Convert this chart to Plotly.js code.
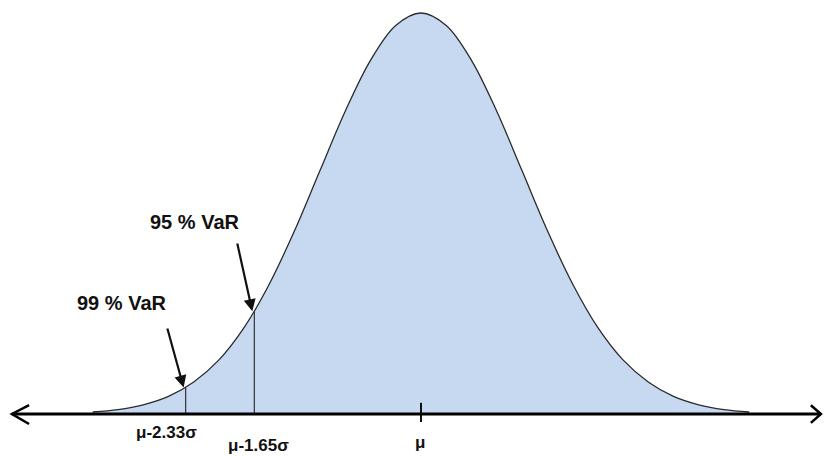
<!DOCTYPE html>
<html>
<head>
<meta charset="utf-8">
<script src="https://cdn.plot.ly/plotly-3.0.1.min.js"></script>
<style>html,body{margin:0;padding:0;background:#fff;}#chart{width:825px;height:457px;}</style>
</head>
<body>
<div id="chart"></div>
<script>
// x in units of sigma from the mean (mu = 0); density relative to the peak
const sigmaX = [-3.25,-3,-2.75,-2.5,-2.25,-2,-1.75,-1.5,-1.25,-1,-0.75,-0.5,-0.25,0,0.25,0.5,0.75,1,1.25,1.5,1.75,2,2.25,2.5,2.75,3,3.25];
const density = [0.005,0.011,0.023,0.044,0.080,0.135,0.216,0.325,0.458,0.607,0.755,0.882,0.969,1.0,0.969,0.882,0.755,0.607,0.458,0.325,0.216,0.135,0.080,0.044,0.023,0.011,0.005];

// VaR cut-offs
const varLevels = ["99 % VaR", "95 % VaR"];
const varX = [-2.33, -1.65];
const varY = [0.066, 0.256];
const varTickLabels = ["μ-2.33σ", "μ-1.65σ"];
const meanLabel = "μ";

const traces = [
  {x: sigmaX, y: density, type: 'scatter', mode: 'lines', line: {color: '#2b2b2b', width: 1.3, shape: 'spline', smoothing: 1}, fill: 'tozeroy', fillcolor: '#c6d9f1', hoverinfo: 'skip'}
];
varX.forEach((vx, i) => {
  traces.push({x: [vx, vx], y: [0, varY[i]], type: 'scatter', mode: 'lines', line: {color: '#333', width: 1.2}, hoverinfo: 'skip'});
});
traces.push({x: [0, 0], y: [-0.02, 0.028], type: 'scatter', mode: 'lines', line: {color: '#111', width: 2}, hoverinfo: 'skip'});

const annotations = [];
// arrows (head at curve, tail above-left)
const arrowTail = [[-2.515, 0.217], [-1.822, 0.429]];
varX.forEach((vx, i) => {
  annotations.push({x: vx - 0.02, y: varY[i], ax: arrowTail[i][0], ay: arrowTail[i][1], xref: 'x', yref: 'y', axref: 'x', ayref: 'y', text: '', showarrow: true, arrowhead: 2, arrowsize: 1.1, arrowwidth: 2.2, arrowcolor: '#111'});
});
const labelPos = [[-2.96, 0.277], [-2.238, 0.479]];
varLevels.forEach((t, i) => {
  annotations.push({x: labelPos[i][0], y: labelPos[i][1], xref: 'x', yref: 'y', text: '<b>' + t + '</b>', showarrow: false, font: {family: 'Liberation Sans, Arial, sans-serif', size: 20, color: '#111'}});
});
const tickLabelPos = [[-2.52, -0.047], [-1.61, -0.079]];
varTickLabels.forEach((t, i) => {
  annotations.push({x: tickLabelPos[i][0], y: tickLabelPos[i][1], xref: 'x', yref: 'y', text: '<b>' + t + '</b>', showarrow: false, font: {family: 'Liberation Sans, Arial, sans-serif', size: 17, color: '#111'}});
});
annotations.push({x: -0.01, y: -0.07, xref: 'x', yref: 'y', text: '<b>' + meanLabel + '</b>', showarrow: false, font: {family: 'Liberation Sans, Arial, sans-serif', size: 17, color: '#111'}});

const axL = -4.05, axR = 3.96;
const shapes = [
  {type: 'line', xref: 'x', yref: 'y', x0: axL, x1: axR, y0: 0, y1: 0, line: {color: '#000', width: 3}},
  {type: 'path', xref: 'x', yref: 'y', path: `M ${axL + 0.17} 0.022 L ${axL} 0 L ${axL + 0.17} -0.025`, line: {color: '#000', width: 2.5}},
  {type: 'path', xref: 'x', yref: 'y', path: `M ${axR - 0.1} 0.022 L ${axR} 0 L ${axR - 0.1} -0.022`, line: {color: '#000', width: 2.5}}
];

const layout = {
  width: 825, height: 457,
  margin: {l: 0, r: 0, t: 0, b: 0},
  paper_bgcolor: '#fff', plot_bgcolor: '#fff',
  showlegend: false,
  xaxis: {range: [-4.168, 4.0], visible: false, fixedrange: true},
  yaxis: {range: [-0.1072, 1.0324], visible: false, fixedrange: true},
  annotations: annotations,
  shapes: shapes
};
Plotly.newPlot('chart', traces, layout, {staticPlot: true, displayModeBar: false});
</script>
</body>
</html>
